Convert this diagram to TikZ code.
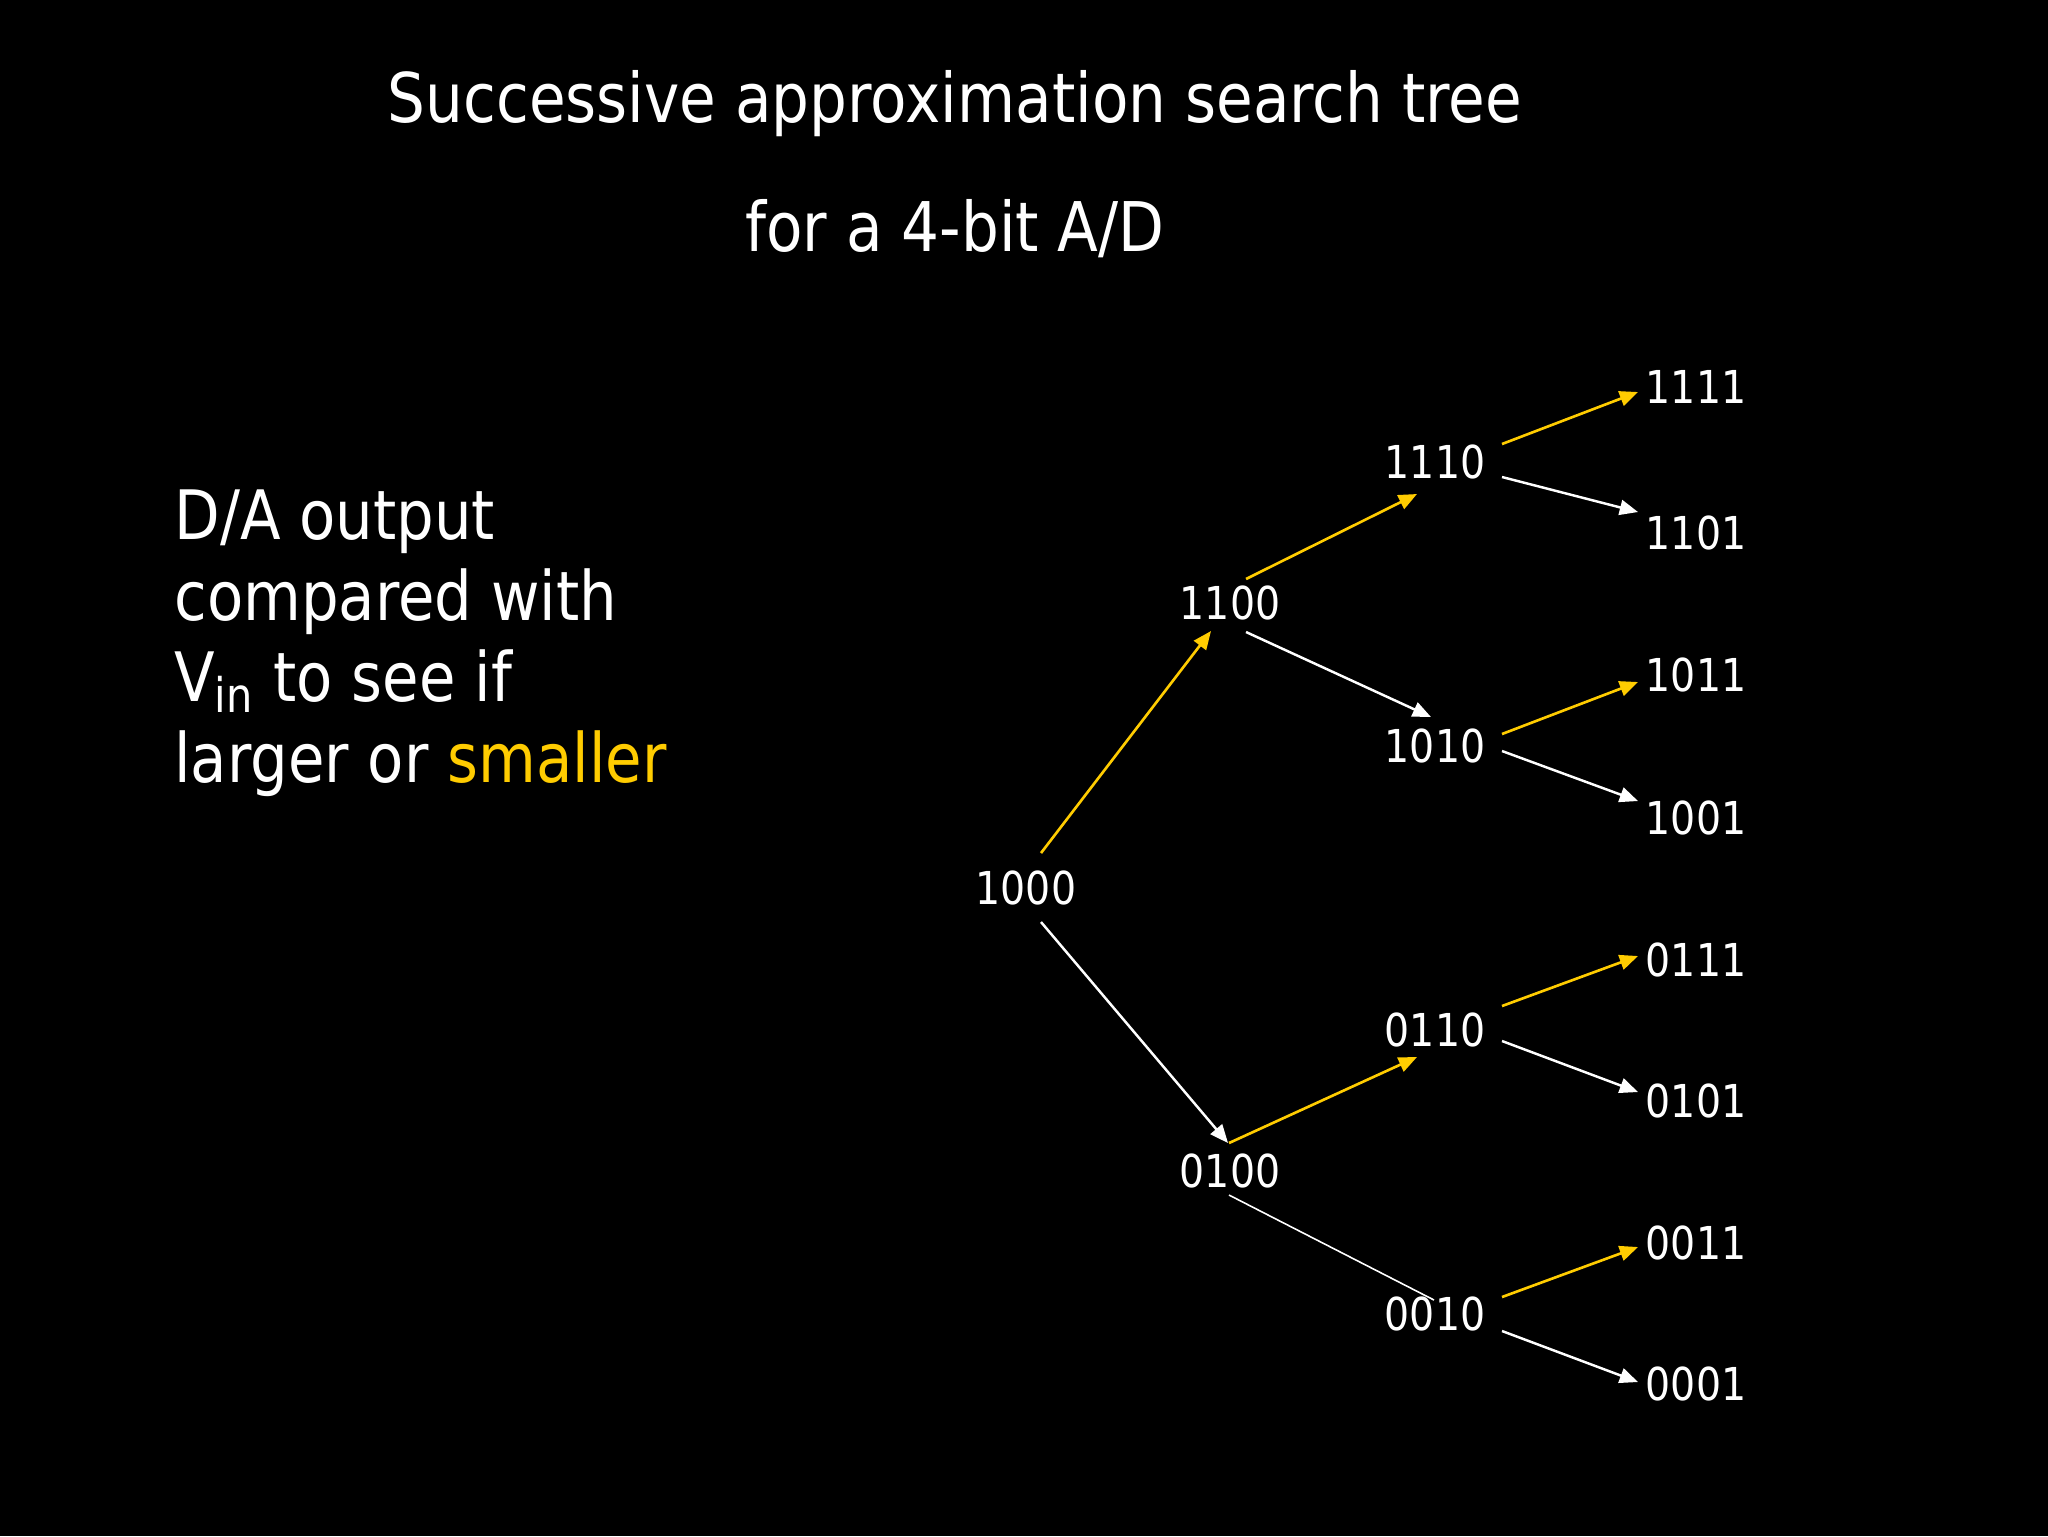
\documentclass[tikz,border=0pt]{standalone}
\usepackage{fontspec}
\setmainfont{DejaVu Sans}[FakeStretch=0.87]
\usetikzlibrary{arrows.meta}

\definecolor{gold}{RGB}{255,204,0}

\tikzstyle{heading} = [text=white, font=\fontsize{19.5}{23}\selectfont]
\tikzstyle{remark} = [text=white, align=left, font=\fontsize{19.4}{23}\selectfont]
\tikzstyle{bits} = [text=white, inner sep=0pt, font=\fontsize{12.9}{15}\selectfont]
\tikzstyle{smaller} = [gold, line width=0.75pt, -{Triangle[length=5.2pt,width=4.3pt]}]
\tikzstyle{larger} = [white, line width=0.7pt, -{Triangle[length=5.2pt,width=4.3pt]}]

\begin{document}
\begin{tikzpicture}[x=0.1mm, y=-0.1mm]
	\fill [black] (0,0) rectangle (2048,1536);
	
	\node (title) [heading] at (955,104) {Successive approximation search tree};
	\node (title2) [heading] at (955,229) {for a 4-bit A/D};
	\node (note) [remark, anchor=base west] at (162,782) {D/A output\\compared with\\V\textsubscript{in} to see if\\larger or \textcolor{gold}{smaller}};
	
	\node (n1000) [bits] at (1026,888) {1000};
	\node (n1100) [bits] at (1230,603) {1100};
	\node (n0100) [bits] at (1230,1171) {0100};
	\node (n1110) [bits] at (1435,462) {1110};
	\node (n1010) [bits] at (1435,746) {1010};
	\node (n0110) [bits] at (1435,1030) {0110};
	\node (n0010) [bits] at (1435,1314) {0010};
	\node (n1111) [bits] at (1696,387) {1111};
	\node (n1101) [bits] at (1696,533) {1101};
	\node (n1011) [bits] at (1696,675) {1011};
	\node (n1001) [bits] at (1696,818) {1001};
	\node (n0111) [bits] at (1696,960) {0111};
	\node (n0101) [bits] at (1696,1101) {0101};
	\node (n0011) [bits] at (1696,1243) {0011};
	\node (n0001) [bits] at (1696,1384) {0001};
	
	\draw [smaller] ([shift={(15,-35)}]n1000.center) -- ([shift={(-19,28)}]n1100.center);
	\draw [larger] ([shift={(15,34)}]n1000.center) -- ([shift={(-2,-28)}]n0100.center);
	\draw [smaller] ([shift={(16,-24)}]n1100.center) -- ([shift={(-18,32)}]n1110.center);
	\draw [larger] ([shift={(16,29)}]n1100.center) -- ([shift={(-4,-29)}]n1010.center);
	\draw [smaller] ([shift={(-1,-28)}]n0100.center) -- ([shift={(-18,27)}]n0110.center);
	\draw [white, line width=0.45pt] ([shift={(-1,24)}]n0100.center) -- ([shift={(-1,-14)}]n0010.center);
	
	\draw [smaller] ([shift={(67,-18)}]n1110.center) -- ([shift={(-58,5)}]n1111.center);
	\draw [larger] ([shift={(67,15)}]n1110.center) -- ([shift={(-58,-21)}]n1101.center);
	\draw [smaller] ([shift={(67,-12)}]n1010.center) -- ([shift={(-58,7)}]n1011.center);
	\draw [larger] ([shift={(67,5)}]n1010.center) -- ([shift={(-58,-17)}]n1001.center);
	\draw [smaller] ([shift={(67,-24)}]n0110.center) -- ([shift={(-58,-4)}]n0111.center);
	\draw [larger] ([shift={(67,11)}]n0110.center) -- ([shift={(-58,-9)}]n0101.center);
	\draw [smaller] ([shift={(67,-17)}]n0010.center) -- ([shift={(-58,4)}]n0011.center);
	\draw [larger] ([shift={(67,17)}]n0010.center) -- ([shift={(-58,-2)}]n0001.center);
	
\end{tikzpicture}
\end{document}
